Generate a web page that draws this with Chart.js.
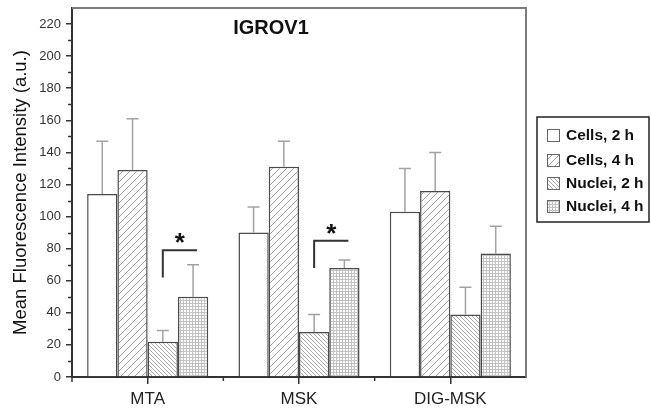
<!DOCTYPE html>
<html>
<head>
<meta charset="utf-8">
<script src="https://cdn.jsdelivr.net/npm/chart.js@4.4.1/dist/chart.umd.min.js"></script>
<style>
  html, body { margin: 0; padding: 0; background: #fff; }
  #wrap { width: 651px; height: 414px; position: relative; }
</style>
</head>
<body>
<div id="wrap"><canvas id="graph"></canvas></div>
<script>
const groups = ['MTA', 'MSK', 'DIG-MSK'];
const seriesNames = ['Cells, 2 h', 'Cells, 4 h', 'Nuclei, 2 h', 'Nuclei, 4 h'];

// mean values
const cells2h = [114, 90, 103];
const cells4h = [129, 131, 116];
const nuclei2h = [22, 28, 39];
const nuclei4h = [50, 68, 77];

// upper error (SD)
const cells2hErr = [33, 16, 27];
const cells4hErr = [32, 16, 24];
const nuclei2hErr = [7, 11, 17];
const nuclei4hErr = [20, 5, 17];

// significance brackets between nuclei 2 h and nuclei 4 h
const sigGroups = [0, 1];
const sigTop = [79, 85];
const sigLeg = [62, 68];

const yTicks = [0, 20, 40, 60, 80, 100, 120, 140, 160, 180, 200, 220];
const yMinor = [10, 30, 50, 70, 90, 110, 130, 150, 170, 190, 210];

const FONT = '"Liberation Sans", Arial, Helvetica, sans-serif';

function makePattern(kind) {
  const size = kind === 'fwd' ? 7 : (kind === 'back' ? 4 : 3);
  const c = document.createElement('canvas');
  c.width = size; c.height = size;
  const g = c.getContext('2d');
  g.fillStyle = '#fff';
  g.fillRect(0, 0, size, size);
  if (kind === 'grid') {
    g.fillStyle = '#c2c2c2';
    g.fillRect(0, 0, size, 1);
    g.fillRect(0, 0, 1, size);
  } else {
    g.strokeStyle = kind === 'fwd' ? '#a0a0a0' : '#a8a8a8';
    g.lineWidth = 1;
    g.beginPath();
    if (kind === 'fwd') {
      g.moveTo(0, size); g.lineTo(size, 0);
      g.moveTo(-1, 1); g.lineTo(1, -1);
      g.moveTo(size - 1, size + 1); g.lineTo(size + 1, size - 1);
    } else {
      g.moveTo(0, 0); g.lineTo(size, size);
      g.moveTo(-1, size - 1); g.lineTo(1, size + 1);
      g.moveTo(size - 1, -1); g.lineTo(size + 1, 1);
    }
    g.stroke();
  }
  return g.createPattern(c, 'repeat');
}

const fills = ['#ffffff', makePattern('fwd'), makePattern('back'), makePattern('grid')];
const values = [cells2h, cells4h, nuclei2h, nuclei4h];
const errors = [cells2hErr, cells4hErr, nuclei2hErr, nuclei4hErr];

// error bars, brackets, frame, minor ticks, title and legend
const extras = {
  id: 'extras',
  afterDatasetsDraw(chart) {
    const ctx = chart.ctx;
    const y = chart.scales.y;
    ctx.save();
    ctx.strokeStyle = '#a2a2a2';
    ctx.lineWidth = 1.5;
    values.forEach((vals, d) => {
      const meta = chart.getDatasetMeta(d);
      vals.forEach((v, i) => {
        const bx = meta.data[i].x;
        const y0 = y.getPixelForValue(v);
        const y1 = y.getPixelForValue(v + errors[d][i]);
        ctx.beginPath();
        ctx.moveTo(bx, y0); ctx.lineTo(bx, y1);
        ctx.moveTo(bx - 6, y1); ctx.lineTo(bx + 6, y1);
        ctx.stroke();
      });
    });
    ctx.restore();
  },
  afterDraw(chart) {
    const ctx = chart.ctx;
    const {left, right, top, bottom} = chart.chartArea;
    const x = chart.scales.x;
    const y = chart.scales.y;
    ctx.save();

    // top and right frame
    ctx.strokeStyle = '#7c7c7c';
    ctx.lineWidth = 2;
    ctx.beginPath();
    ctx.moveTo(left, top); ctx.lineTo(right, top); ctx.lineTo(right, bottom);
    ctx.stroke();

    // minor ticks
    ctx.strokeStyle = '#333';
    ctx.lineWidth = 1.5;
    ctx.beginPath();
    yMinor.forEach(v => {
      const py = Math.round(y.getPixelForValue(v)) + 0.5;
      ctx.moveTo(left - 4, py); ctx.lineTo(left, py);
    });
    for (let i = 1; i < groups.length; i++) {
      const px = (x.getPixelForValue(i - 1) + x.getPixelForValue(i)) / 2;
      ctx.moveTo(px, bottom); ctx.lineTo(px, bottom + 4);
    }
    ctx.moveTo(left, bottom); ctx.lineTo(left, bottom + 5);
    ctx.stroke();

    // significance brackets
    ctx.strokeStyle = '#333';
    ctx.lineWidth = 2;
    ctx.fillStyle = '#111';
    ctx.font = 'bold 26px ' + FONT;
    ctx.textAlign = 'center';
    ctx.textBaseline = 'alphabetic';
    sigGroups.forEach((gi, k) => {
      const x1 = chart.getDatasetMeta(2).data[gi].x;
      const x2 = chart.getDatasetMeta(3).data[gi].x + 4;
      const yt = y.getPixelForValue(sigTop[k]);
      const yl = y.getPixelForValue(sigLeg[k]);
      ctx.beginPath();
      ctx.moveTo(x1, yl); ctx.lineTo(x1, yt); ctx.lineTo(x2, yt);
      ctx.stroke();
      ctx.fillText('*', (x1 + x2) / 2, yt + 1);
    });

    // panel title
    ctx.font = 'bold 20px ' + FONT;
    ctx.fillText('IGROV1', 271, 34);

    // legend
    const lx = 537, ly = 117, lw = 112, lh = 105;
    ctx.lineWidth = 1.5;
    ctx.strokeStyle = '#222';
    ctx.strokeRect(lx, ly, lw, lh);
    ctx.font = 'bold 15.5px ' + FONT;
    ctx.textAlign = 'left';
    ctx.textBaseline = 'middle';
    const rows = [135, 160, 183, 206];
    seriesNames.forEach((name, d) => {
      ctx.fillStyle = fills[d];
      ctx.fillRect(547, rows[d] - 6, 12, 12);
      ctx.strokeStyle = '#666';
      ctx.lineWidth = 1;
      ctx.strokeRect(547.5, rows[d] - 5.5, 12, 12);
      ctx.fillStyle = '#111';
      ctx.fillText(name, 566, rows[d] + 1);
    });
    ctx.restore();
  }
};

new Chart(document.getElementById('graph'), {
  type: 'bar',
  data: {
    labels: groups,
    datasets: values.map((vals, d) => ({
      label: seriesNames[d],
      data: vals,
      backgroundColor: fills[d],
      borderColor: '#4a4a4a',
      borderWidth: 1.5,
      categoryPercentage: 0.8,
      barPercentage: 1.0
    }))
  },
  options: {
    responsive: true,
    maintainAspectRatio: false,
    devicePixelRatio: 1,
    animation: false,
    layout: { padding: { top: 8, right: 125, left: 0, bottom: 0 } },
    plugins: {
      legend: { display: false },
      tooltip: { enabled: false }
    },
    scales: {
      x: {
        grid: { drawOnChartArea: false, offset: false, tickLength: 7, color: '#333', lineWidth: 1.5 },
        border: { color: '#333', width: 2 },
        ticks: { font: { family: FONT, size: 17 }, color: '#222', padding: 5 },
        afterFit(scale) {
          scale.height = 37;
          scale.paddingLeft = 0;
          scale.paddingRight = 0;
        }
      },
      y: {
        min: 0,
        max: 230,
        afterBuildTicks(scale) { scale.ticks = yTicks.map(v => ({ value: v })); },
        grid: { drawOnChartArea: false, tickLength: 6, color: '#333', lineWidth: 1.5 },
        border: { color: '#333', width: 2 },
        ticks: { font: { family: FONT, size: 13 }, color: '#333', padding: 5 },
        title: {
          display: true,
          text: 'Mean Fluorescence Intensity (a.u.)',
          font: { family: FONT, size: 18.5 },
          color: '#111',
          padding: { top: 10, bottom: 0 }
        },
        afterFit(scale) {
          scale.width = 72;
          scale.paddingTop = 0;
          scale.paddingBottom = 0;
        }
      }
    }
  },
  plugins: [extras]
});
</script>
</body>
</html>
